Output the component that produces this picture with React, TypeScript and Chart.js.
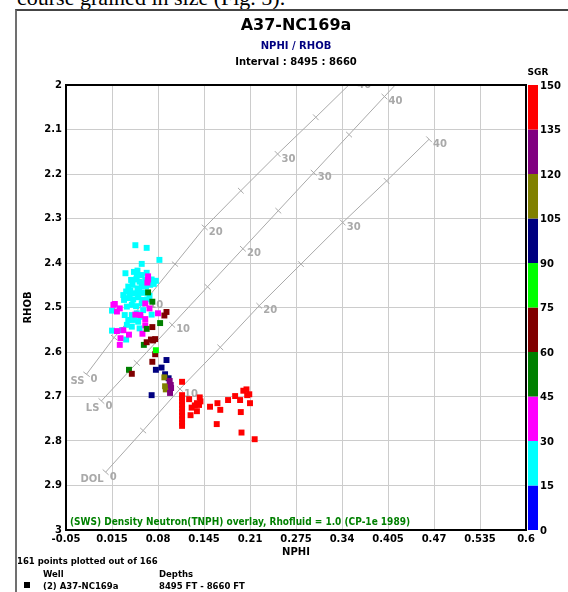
import React, { useEffect, useRef } from "react";
import { Chart, registerables } from "chart.js";

Chart.register(...registerables);

// ---------- axes ----------
const X_TICKS = [-0.05, 0.015, 0.08, 0.145, 0.21, 0.275, 0.34, 0.405, 0.47, 0.535, 0.6];
const X_TICK_LABELS = ["-0.05", "0.015", "0.08", "0.145", "0.21", "0.275", "0.34", "0.405", "0.47", "0.535", "0.6"];
const Y_TICKS = [2, 2.1, 2.2, 2.3, 2.4, 2.5, 2.6, 2.7, 2.8, 2.9, 3];
const Y_TICK_LABELS = ["2", "2.1", "2.2", "2.3", "2.4", "2.5", "2.6", "2.7", "2.8", "2.9", "3"];

// ---------- colour scale (SGR) ----------
const SGR_BOUNDS = [0, 15, 30, 45, 60, 75, 90, 105, 120, 135, 150];
const SGR_COLORS = ["#0000ff", "#00ffff", "#ff00ff", "#008000", "#800000", "#00ff00", "#000080", "#808000", "#800080", "#ff0000"];

// ---------- points [NPHI, RHOB] per SGR class ----------
const SGR_15_30: number[][] = [
  [0.048, 2.36], [0.064, 2.366], [0.082, 2.393], [0.057, 2.402], [0.034, 2.423], [0.046, 2.42], [0.051, 2.417],
  [0.057, 2.427], [0.064, 2.422], [0.042, 2.438], [0.049, 2.437], [0.054, 2.442], [0.062, 2.438], [0.071, 2.437],
  [0.077, 2.44], [0.038, 2.453], [0.044, 2.449], [0.051, 2.457], [0.057, 2.452], [0.063, 2.453], [0.069, 2.449],
  [0.074, 2.447], [0.035, 2.464], [0.041, 2.462], [0.047, 2.468], [0.054, 2.464], [0.06, 2.467], [0.032, 2.483],
  [0.038, 2.479], [0.045, 2.482], [0.052, 2.477], [0.058, 2.483], [0.065, 2.482], [0.036, 2.498], [0.043, 2.494],
  [0.049, 2.497], [0.057, 2.491], [0.015, 2.507], [0.043, 2.517], [0.05, 2.513], [0.055, 2.521], [0.038, 2.528],
  [0.045, 2.528], [0.052, 2.532], [0.036, 2.539], [0.043, 2.543], [0.054, 2.547], [0.029, 2.551], [0.015, 2.552],
  [0.035, 2.572], [0.05, 2.429], [0.059, 2.446], [0.066, 2.442], [0.04, 2.472], [0.052, 2.47], [0.068, 2.474],
  [0.031, 2.472], [0.059, 2.506], [0.047, 2.524], [0.033, 2.517], [0.071, 2.516],
];
const SGR_30_45: number[][] = [
  [0.066, 2.43], [0.066, 2.437], [0.065, 2.444], [0.017, 2.494], [0.022, 2.509], [0.026, 2.502], [0.068, 2.502],
  [0.062, 2.491], [0.08, 2.513], [0.048, 2.516], [0.062, 2.526], [0.031, 2.551], [0.022, 2.553], [0.027, 2.569],
  [0.039, 2.561], [0.058, 2.559], [0.026, 2.584], [0.019, 2.492], [0.055, 2.517], [0.062, 2.54],
];
const SGR_45_60: number[][] = [[0.066, 2.466], [0.072, 2.487], [0.083, 2.535], [0.064, 2.548], [0.06, 2.584], [0.039, 2.64]];
const SGR_60_75: number[][] = [
  [0.092, 2.51], [0.089, 2.518], [0.072, 2.544], [0.064, 2.578], [0.07, 2.572], [0.076, 2.571], [0.073, 2.574],
  [0.076, 2.605], [0.072, 2.622], [0.043, 2.649],
];
const SGR_75_90: number[][] = [[0.077, 2.596]];
const SGR_90_105: number[][] = [[0.092, 2.618], [0.085, 2.635], [0.077, 2.64], [0.09, 2.65], [0.095, 2.659], [0.071, 2.697]];
const SGR_105_120: number[][] = [[0.089, 2.657], [0.09, 2.677], [0.091, 2.684]];
const SGR_120_135: number[][] = [[0.0965, 2.665], [0.098, 2.674], [0.0985, 2.681], [0.097, 2.692]];
const SGR_135_150: number[][] = [
  [0.114, 2.667], [0.114, 2.697], [0.114, 2.704], [0.114, 2.711], [0.114, 2.719], [0.114, 2.727], [0.114, 2.735],
  [0.114, 2.743], [0.114, 2.751], [0.114, 2.759], [0.114, 2.766], [0.124, 2.706], [0.1275, 2.725], [0.126, 2.742],
  [0.135, 2.715], [0.135, 2.733], [0.139, 2.702], [0.138, 2.719], [0.14, 2.711], [0.132, 2.72], [0.1535, 2.723],
  [0.164, 2.715], [0.168, 2.73], [0.163, 2.762], [0.179, 2.708], [0.189, 2.699], [0.196, 2.708], [0.2006, 2.687],
  [0.205, 2.684], [0.206, 2.697], [0.209, 2.695], [0.21, 2.715], [0.197, 2.735], [0.198, 2.781], [0.2166, 2.796],
];
const POINT_GROUPS = [SGR_15_30, SGR_30_45, SGR_45_60, SGR_60_75, SGR_75_90, SGR_90_105, SGR_105_120, SGR_120_135, SGR_135_150];
const POINT_GROUP_CLASS = [1, 2, 3, 4, 5, 6, 7, 8, 9];

// ---------- CP-1e lithology lines ----------
const POROSITY = [0, 0.05, 0.1, 0.15, 0.2, 0.25, 0.3, 0.35, 0.4];
const SS_NPHI = [-0.021, 0.018, 0.062, 0.104, 0.146, 0.197, 0.249, 0.303, 0.356];
const SS_RHOB = [2.65, 2.5675, 2.485, 2.4025, 2.32, 2.2375, 2.155, 2.0725, 1.99];
const LS_NPHI = [0, 0.05, 0.1, 0.15, 0.2, 0.25, 0.3, 0.35, 0.4];
const LS_RHOB = [2.71, 2.6245, 2.539, 2.4535, 2.368, 2.2825, 2.197, 2.1115, 2.026];
const DOL_NPHI = [0.006, 0.059, 0.111, 0.168, 0.223, 0.282, 0.341, 0.403, 0.463];
const DOL_RHOB = [2.87, 2.7765, 2.683, 2.5895, 2.496, 2.4025, 2.309, 2.2155, 2.122];
const SS_END = [0.41, 1.9075];
const LS_END = [0.45, 1.9405];
const LITHOLOGIES = [
  { name: "SS", nphi: SS_NPHI, rhob: SS_RHOB, end: SS_END },
  { name: "LS", nphi: LS_NPHI, rhob: LS_RHOB, end: LS_END },
  { name: "DOL", nphi: DOL_NPHI, rhob: DOL_RHOB, end: null as number[] | null },
];

const FONT = '"DejaVu Sans", Verdana, sans-serif';
const NARROW = '"DejaVu Sans Condensed", "DejaVu Sans", sans-serif';
const OVERLAY_GRAY = "#a9a9a9";

const overlayPlugin = {
  id: "cpOverlay",
  beforeDatasetsDraw(chart: any) {
    const { ctx, chartArea } = chart;
    const xs = chart.scales.x;
    const ys = chart.scales.y;
    ctx.save();
    ctx.beginPath();
    ctx.rect(chartArea.left, chartArea.top, chartArea.right - chartArea.left, chartArea.bottom - chartArea.top);
    ctx.clip();
    ctx.strokeStyle = OVERLAY_GRAY;
    ctx.fillStyle = OVERLAY_GRAY;
    ctx.lineWidth = 1;
    ctx.font = `bold 10px ${FONT}`;
    for (const lith of LITHOLOGIES) {
      const pts = lith.nphi.map((n, i) => ({ x: xs.getPixelForValue(n), y: ys.getPixelForValue(lith.rhob[i]) }));
      pts.forEach((p, i) => {
        const a = pts[Math.max(0, i - 1)];
        const b = pts[Math.min(pts.length - 1, i + 1)];
        const dx = b.x - a.x;
        const dy = b.y - a.y;
        const len = Math.hypot(dx, dy) || 1;
        const nx = -dy / len;
        const ny = dx / len;
        ctx.beginPath();
        ctx.moveTo(p.x - nx * 4, p.y - ny * 4);
        ctx.lineTo(p.x + nx * 4, p.y + ny * 4);
        ctx.stroke();
        if (i % 2 === 0) {
          ctx.textAlign = "left";
          ctx.textBaseline = "middle";
          ctx.fillText(String(Math.round(POROSITY[i] * 100)), p.x + 4, p.y + 5);
        }
      });
      ctx.textAlign = "right";
      ctx.textBaseline = "middle";
      ctx.fillText(lith.name, pts[0].x - 2, pts[0].y + 7);
    }
    ctx.restore();
  },
  afterDatasetsDraw(chart: any) {
    const { ctx, chartArea } = chart;
    ctx.save();
    ctx.fillStyle = "#008000";
    ctx.font = `bold 10px ${NARROW}`;
    ctx.textAlign = "left";
    ctx.textBaseline = "middle";
    ctx.fillText("(SWS) Density Neutron(TNPH) overlay, Rhofluid = 1.0 (CP-1e 1989)", chartArea.left + 4, chartArea.bottom - 8);
    ctx.strokeStyle = "#000";
    ctx.lineWidth = 2;
    ctx.strokeRect(chartArea.left, chartArea.top, chartArea.right - chartArea.left, chartArea.bottom - chartArea.top);
    ctx.restore();
  },
};

const colorbarPlugin = {
  id: "sgrColorbar",
  afterDraw(chart: any) {
    const { ctx, chartArea } = chart;
    const x0 = chartArea.right + 2;
    const w = 10;
    const top = chartArea.top;
    const h = chartArea.bottom - chartArea.top;
    const n = SGR_COLORS.length;
    const min = SGR_BOUNDS[0];
    const max = SGR_BOUNDS[SGR_BOUNDS.length - 1];
    const yOf = (v: number) => top + ((max - v) / (max - min)) * h;
    ctx.save();
    for (let i = 0; i < n; i++) {
      const y1 = yOf(SGR_BOUNDS[i + 1]);
      const y2 = yOf(SGR_BOUNDS[i]);
      ctx.fillStyle = SGR_COLORS[i];
      ctx.fillRect(x0, y1, w, y2 - y1);
    }
    ctx.fillStyle = "#000";
    ctx.font = `bold 10px ${FONT}`;
    ctx.textAlign = "left";
    ctx.textBaseline = "middle";
    SGR_BOUNDS.forEach((v) => ctx.fillText(String(v), x0 + w + 2, yOf(v) + 1));
    ctx.font = `bold 9px ${FONT}`;
    ctx.textAlign = "center";
    ctx.fillText("SGR", x0 + 10, top - 12);
    ctx.restore();
  },
};

export default function App() {
  const ref = useRef<HTMLCanvasElement | null>(null);
  useEffect(() => {
    if (!ref.current) return;
    const tickFont = { family: FONT, size: 10, weight: "bold" as const };
    const datasets: any[] = POINT_GROUPS.map((g, k) => ({
      label: `SGR ${SGR_BOUNDS[POINT_GROUP_CLASS[k]]}-${SGR_BOUNDS[POINT_GROUP_CLASS[k] + 1]}`,
      data: g.map(([x, y]) => ({ x, y })),
      backgroundColor: SGR_COLORS[POINT_GROUP_CLASS[k]],
      borderWidth: 0,
      pointStyle: "rect",
      pointRadius: 4.2,
      order: POINT_GROUPS.length - k,
    }));
    LITHOLOGIES.forEach((lith) => {
      const data = lith.nphi.map((n, i) => ({ x: n, y: lith.rhob[i] }));
      if (lith.end) data.push({ x: lith.end[0], y: lith.end[1] });
      datasets.push({
        label: lith.name,
        data,
        showLine: true,
        pointRadius: 0,
        borderColor: OVERLAY_GRAY,
        borderWidth: 1,
        fill: false,
        order: 50,
      });
    });
    const chart = new Chart(ref.current, {
      type: "scatter",
      data: { datasets },
      options: {
        animation: false,
        responsive: false,
        devicePixelRatio: 1,
        events: [],
        layout: { padding: { left: 0, top: 85, right: 42, bottom: 34 } },
        plugins: { legend: { display: false }, tooltip: { enabled: false } },
        scales: {
          x: {
            type: "linear",
            min: -0.05,
            max: 0.6,
            afterBuildTicks: (s: any) => {
              s.ticks = X_TICKS.map((v) => ({ value: v }));
            },
            afterFit: (s: any) => {
              s.height = 28;
            },
            ticks: {
              callback: (_v: any, i: number) => X_TICK_LABELS[i],
              font: tickFont,
              color: "#000",
              padding: 3,
              maxRotation: 0,
              autoSkip: false,
            },
            grid: { color: "#cccccc", drawTicks: false, lineWidth: 1 },
            border: { display: false },
            title: { display: true, text: "NPHI", font: tickFont, color: "#000", padding: { top: 0, bottom: 0 } },
          },
          y: {
            type: "linear",
            min: 2,
            max: 3,
            reverse: true,
            afterBuildTicks: (s: any) => {
              s.ticks = Y_TICKS.map((v) => ({ value: v }));
            },
            afterFit: (s: any) => {
              s.width = 66;
            },
            ticks: {
              callback: (_v: any, i: number) => Y_TICK_LABELS[i],
              font: tickFont,
              color: "#000",
              padding: 4,
              autoSkip: false,
            },
            grid: { color: "#cccccc", drawTicks: false, lineWidth: 1 },
            border: { display: false },
            title: { display: true, text: "RHOB", font: tickFont, color: "#000", padding: { top: 22, bottom: 0 } },
          },
        },
      },
      plugins: [overlayPlugin, colorbarPlugin],
    } as any);
    return () => chart.destroy();
  }, []);

  const center = (top: number, size: number, color: string, text: string) => (
    <div
      style={{
        position: "absolute",
        left: 296,
        top,
        transform: "translate(-50%, -50%)",
        font: `bold ${size}px ${FONT}`,
        lineHeight: `${size}px`,
        color,
        whiteSpace: "nowrap",
      }}
    >
      {text}
    </div>
  );

  const small = (left: number, top: number, text: string) => (
    <div style={{ position: "absolute", left, top, font: `bold 8.5px ${FONT}`, lineHeight: "10px", whiteSpace: "nowrap", color: "#000" }}>
      {text}
    </div>
  );

  return (
    <div style={{ position: "fixed", left: 0, top: 0, width: 568, height: 592, overflow: "hidden", background: "#fff" }}>
      <div
        style={{
          position: "absolute",
          left: 17,
          top: -13,
          font: '22px "Liberation Serif", serif',
          lineHeight: "22px",
          whiteSpace: "nowrap",
          color: "#000",
        }}
      >
        course grained in size (Fig. 5).
      </div>
      <div
        style={{
          position: "absolute",
          left: 15,
          top: 9,
          width: 600,
          height: 600,
          borderLeft: "2px solid #707070",
          borderTop: "2px solid #444",
          boxSizing: "border-box",
        }}
      />
      <canvas ref={ref} width={568} height={592} style={{ position: "absolute", left: 0, top: 0, width: 568, height: 592 }} />
      {center(25, 16, "#000", "A37-NC169a")}
      {center(46, 10, "#000080", "NPHI / RHOB")}
      {center(62, 10, "#000", "Interval : 8495 : 8660")}
      {small(17, 556, "161 points plotted out of 166")}
      {small(43, 569, "Well")}
      {small(159, 569, "Depths")}
      <div style={{ position: "absolute", left: 24, top: 582, width: 6, height: 6, background: "#000" }} />
      {small(43, 581, "(2) A37-NC169a")}
      {small(159, 581, "8495 FT - 8660 FT")}
    </div>
  );
}
